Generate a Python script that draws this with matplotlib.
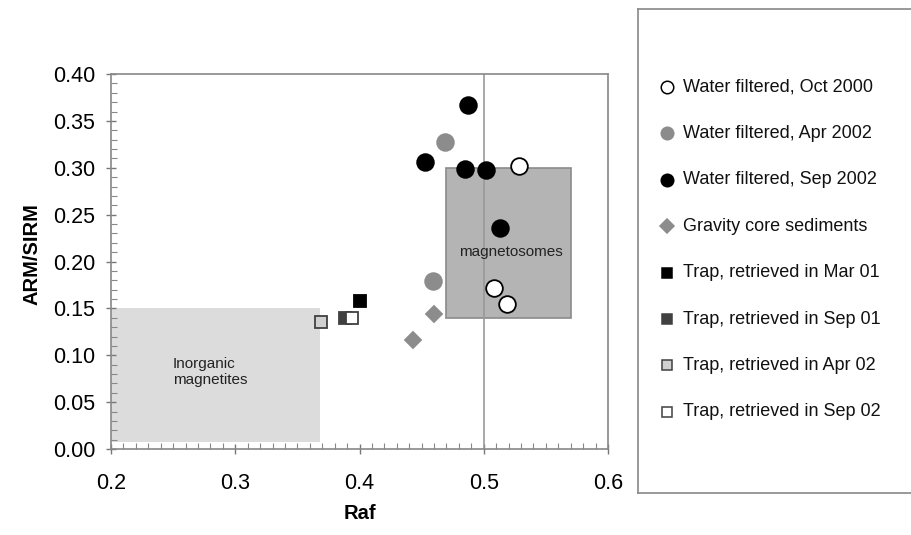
import numpy as np
from matplotlib import pyplot as plt
from matplotlib import patches
from matplotlib.ticker import MultipleLocator, FormatStrFormatter

plt.rcParams['font.family'] = ['Liberation Sans', 'DejaVu Sans']

# Data (Raf, ARM/SIRM):
series_labels = ['Water filtered, Oct 2000', 'Water filtered, Apr 2002', 'Water filtered, Sep 2002',
                 'Gravity core sediments', 'Trap, retrieved in Mar 01', 'Trap, retrieved in Sep 01',
                 'Trap, retrieved in Apr 02', 'Trap, retrieved in Sep 02']
oct2000_raf = [0.528, 0.508, 0.519]
oct2000_arm = [0.302, 0.172, 0.155]
apr2002_raf = [0.469, 0.459]
apr2002_arm = [0.327, 0.179]
sep2002_raf = [0.487, 0.453, 0.485, 0.502, 0.513]
sep2002_arm = [0.367, 0.306, 0.299, 0.298, 0.236]
core_raf = [0.460, 0.443]
core_arm = [0.144, 0.116]
trap_mar01_raf = [0.400]
trap_mar01_arm = [0.158]
trap_sep01_raf = [0.388]
trap_sep01_arm = [0.140]
trap_apr02_raf = [0.369]
trap_apr02_arm = [0.136]
trap_sep02_raf = [0.394]
trap_sep02_arm = [0.140]

# Shaded reference fields: (x0, x1, y0, y1)
inorganic_box = [0.20, 0.368, 0.007, 0.150]
magnetosome_box = [0.47, 0.57, 0.14, 0.30]
raf_line = 0.5

xs = [oct2000_raf, apr2002_raf, sep2002_raf, core_raf, trap_mar01_raf, trap_sep01_raf, trap_apr02_raf, trap_sep02_raf]
ys = [oct2000_arm, apr2002_arm, sep2002_arm, core_arm, trap_mar01_arm, trap_sep01_arm, trap_apr02_arm, trap_sep02_arm]
# marker, facecolor, edgecolor, size in plot, size in legend
styles = [('o', 'white', 'black', 12, 9),
          ('o', '#8c8c8c', '#8c8c8c', 12, 9),
          ('o', 'black', 'black', 12, 9),
          ('D', '#8c8c8c', '#8c8c8c', 8, 7),
          ('s', 'black', 'black', 8.5, 7),
          ('s', '#404040', '#404040', 8.5, 7),
          ('s', '#d0d0d0', '#404040', 8.5, 7),
          ('s', 'white', '#404040', 8.5, 7)]

fig = plt.figure(figsize=(9.11, 5.35), dpi=100)
ax = fig.add_axes([111 / 911, 86 / 535, 497 / 911, 375 / 535])

# Shaded fields:
ax.add_patch(patches.Rectangle((inorganic_box[0], inorganic_box[2]), inorganic_box[1] - inorganic_box[0],
                               inorganic_box[3] - inorganic_box[2], facecolor='#dcdcdc', edgecolor='none', zorder=1))
ax.add_patch(patches.Rectangle((magnetosome_box[0], magnetosome_box[2]), magnetosome_box[1] - magnetosome_box[0],
                               magnetosome_box[3] - magnetosome_box[2], facecolor='#b4b4b4', edgecolor='#8a8a8a',
                               lw=1.2, zorder=1))
ax.axvline(raf_line, color='#999999', lw=1.2, zorder=2)
ax.text(0.25, 0.082, 'Inorganic\nmagnetites', fontsize=11, va='center', ha='left', color='#222222', zorder=3)
ax.text(0.480, 0.21, 'magnetosomes', fontsize=11, va='center', ha='left', color='#222222', zorder=3)

# Data points:
for x, y, (m, fc, ec, ms, _) in zip(xs, ys, styles):
    ax.plot(x, y, linestyle='none', marker=m, markerfacecolor=fc, markeredgecolor=ec, markersize=ms,
            markeredgewidth=1.3, zorder=4)

# Axes styling:
ax.set_xlim(0.2, 0.6)
ax.set_ylim(0.0, 0.4)
ax.xaxis.set_major_locator(MultipleLocator(0.1))
ax.yaxis.set_major_locator(MultipleLocator(0.05))
ax.xaxis.set_minor_locator(MultipleLocator(0.01))
ax.yaxis.set_minor_locator(MultipleLocator(0.01))
ax.xaxis.set_major_formatter(FormatStrFormatter('%.1f'))
ax.yaxis.set_major_formatter(FormatStrFormatter('%.2f'))
ax.tick_params(which='major', direction='inout', length=7, width=1, color='#777777', labelsize=15.5)
ax.tick_params(axis='x', which='major', pad=14)
ax.tick_params(axis='y', which='major', pad=8)
ax.tick_params(which='minor', direction='in', length=4, width=0.8, color='#888888')
for s in ax.spines.values():
    s.set_color('#888888')
    s.set_linewidth(1.2)
ax.set_xlabel('Raf', fontsize=14.5, weight='bold', labelpad=7)
ax.set_ylabel('ARM/SIRM', fontsize=14.5, weight='bold')
ax.yaxis.set_label_coords(-0.14, 0.52)

# Legend box drawn as its own axes:
lax = fig.add_axes([638 / 911, 42 / 535, 290 / 911, 484 / 535])
lax.set_xlim(0, 290)
lax.set_ylim(484, 0)
lax.set_xticks([])
lax.set_yticks([])
for s in lax.spines.values():
    s.set_color('#888888')
    s.set_linewidth(1.2)
for i, (label, (m, fc, ec, _, lms)) in enumerate(zip(series_labels, styles)):
    yy = 78 + i * 46.4
    lax.plot([29], [yy], linestyle='none', marker=m, markerfacecolor=fc, markeredgecolor=ec, markersize=lms,
             markeredgewidth=1.1, clip_on=False)
    lax.text(45, yy, label, fontsize=13, va='center', ha='left', color='#111111')

plt.savefig('out.png', dpi=100)
plt.close(fig)
